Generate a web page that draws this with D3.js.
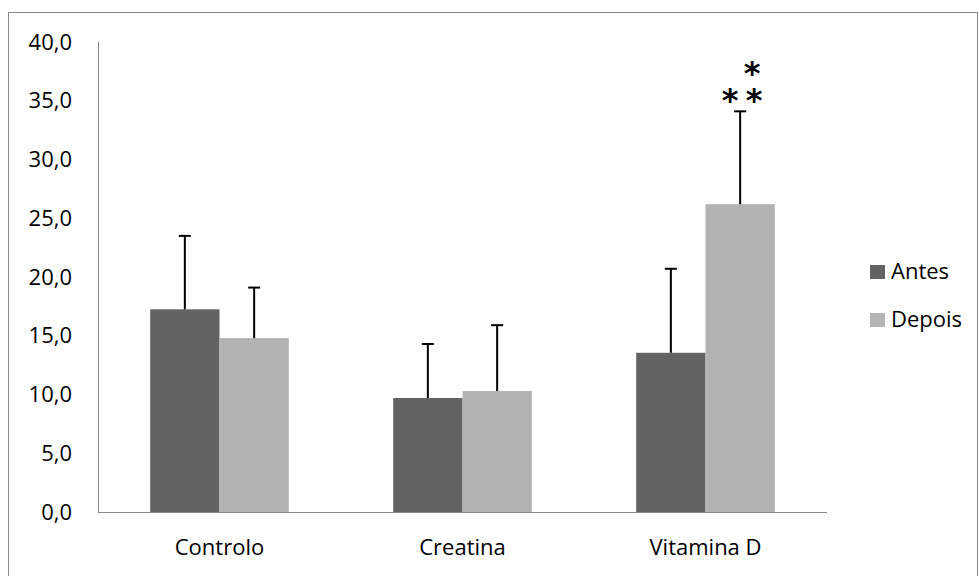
<!DOCTYPE html>
<html>
<head>
<meta charset="utf-8">
<script src="https://cdn.jsdelivr.net/npm/d3@7"></script>
<style>
  html, body { margin: 0; padding: 0; background: #fff; }
  svg text { font-family: "Open Sans", "Noto Sans", sans-serif; }
</style>
</head>
<body>
<svg id="chart" width="979" height="576"></svg>
<script>
const categories = ["Controlo", "Creatina", "Vitamina D"];
const series = ["Antes", "Depois"];
const antesValues = [17.25, 9.7, 13.55];
const depoisValues = [14.8, 10.3, 26.2];
const antesErrors = [6.25, 4.6, 7.15];
const depoisErrors = [4.3, 5.6, 7.9];
const yTicks = [0, 5, 10, 15, 20, 25, 30, 35, 40];
const colors = { Antes: "#636363", Depois: "#b3b3b3" };
const significance = [{ category: "Vitamina D", series: "Depois" }];

const svg = d3.select("#chart");
const mLeft = 98, mRight = 827, mTop = 42, mBottom = 512;

svg.append("rect")
  .attr("x", 8.5).attr("y", 12.5).attr("width", 969).attr("height", 600)
  .attr("fill", "none").attr("stroke", "#888").attr("stroke-width", 1);

const x0 = d3.scaleBand().domain(categories).range([mLeft, mRight]).paddingInner(0).paddingOuter(0);
const x1 = d3.scaleBand().domain(series).range([0, x0.bandwidth()]).paddingInner(0).paddingOuter(0.753);
const y = d3.scaleLinear().domain([0, 40]).range([mBottom, mTop]);

const data = categories.map((c, i) => ({
  category: c,
  values: [
    { series: "Antes", value: antesValues[i], err: antesErrors[i] },
    { series: "Depois", value: depoisValues[i], err: depoisErrors[i] }
  ]
}));

// Y axis labels
const yAxis = d3.axisLeft(y).tickValues(yTicks).tickSize(0).tickPadding(26)
  .tickFormat(d => d3.format(".1f")(d).replace(".", ","));
const yg = svg.append("g").attr("transform", `translate(${mLeft},0)`).call(yAxis);
yg.select(".domain").remove();
yg.selectAll("text").attr("font-size", 22).attr("fill", "#000")
  .style("font-family", "'Open Sans', sans-serif");

const groups = svg.append("g").selectAll("g").data(data).join("g")
  .attr("transform", d => `translate(${x0(d.category)},0)`);

groups.selectAll("rect").data(d => d.values).join("rect")
  .attr("x", d => x1(d.series))
  .attr("y", d => y(d.value))
  .attr("width", x1.bandwidth())
  .attr("height", d => y(0) - y(d.value))
  .attr("fill", d => colors[d.series]);

// Error bars (upper only)
const eb = groups.selectAll("g.err").data(d => d.values).join("g").attr("class", "err");
eb.append("line")
  .attr("x1", d => x1(d.series) + x1.bandwidth() / 2)
  .attr("x2", d => x1(d.series) + x1.bandwidth() / 2)
  .attr("y1", d => y(d.value))
  .attr("y2", d => y(d.value + d.err))
  .attr("stroke", "#000").attr("stroke-width", 2);
eb.append("line")
  .attr("x1", d => x1(d.series) + x1.bandwidth() / 2 - 6)
  .attr("x2", d => x1(d.series) + x1.bandwidth() / 2 + 6)
  .attr("y1", d => y(d.value + d.err))
  .attr("y2", d => y(d.value + d.err))
  .attr("stroke", "#000").attr("stroke-width", 2);

// Axis lines
svg.append("line").attr("x1", mLeft + 0.5).attr("x2", mLeft + 0.5).attr("y1", mTop).attr("y2", mBottom)
  .attr("stroke", "#898989").attr("stroke-width", 1);
svg.append("line").attr("x1", mLeft).attr("x2", mRight).attr("y1", mBottom + 0.5).attr("y2", mBottom + 0.5)
  .attr("stroke", "#898989").attr("stroke-width", 1);

// X labels
svg.append("g").selectAll("text").data(categories).join("text")
  .attr("x", d => x0(d) + x0.bandwidth() / 2)
  .attr("y", 555)
  .attr("text-anchor", "middle")
  .attr("font-size", 22)
  .attr("fill", "#000")
  .text(d => d);

// Significance stars (one text element, three asterisks)
significance.forEach(s => {
  const cx = x0(s.category) + x1(s.series) + x1.bandwidth() / 2;
  const t = svg.append("text")
    .attr("font-size", 32).attr("font-weight", "bold").attr("fill", "#000")
    .attr("text-anchor", "middle")
    .style("font-family", "'DejaVu Sans', sans-serif");
  t.append("tspan").attr("x", cx + 12).attr("y", 84).text("*");
  t.append("tspan").attr("x", cx - 10).attr("y", 111).text("*");
  t.append("tspan").attr("x", cx + 14).attr("y", 111).text("*");
});

// Legend
const legend = svg.append("g").selectAll("g").data(series).join("g")
  .attr("transform", (d, i) => `translate(870, ${279 + i * 48})`);
legend.append("rect").attr("x", 0).attr("y", -14).attr("width", 15).attr("height", 14)
  .attr("fill", d => colors[d]);
legend.append("text").attr("x", 21).attr("y", 0).attr("font-size", 22).attr("fill", "#000").text(d => d);
</script>
</body>
</html>
